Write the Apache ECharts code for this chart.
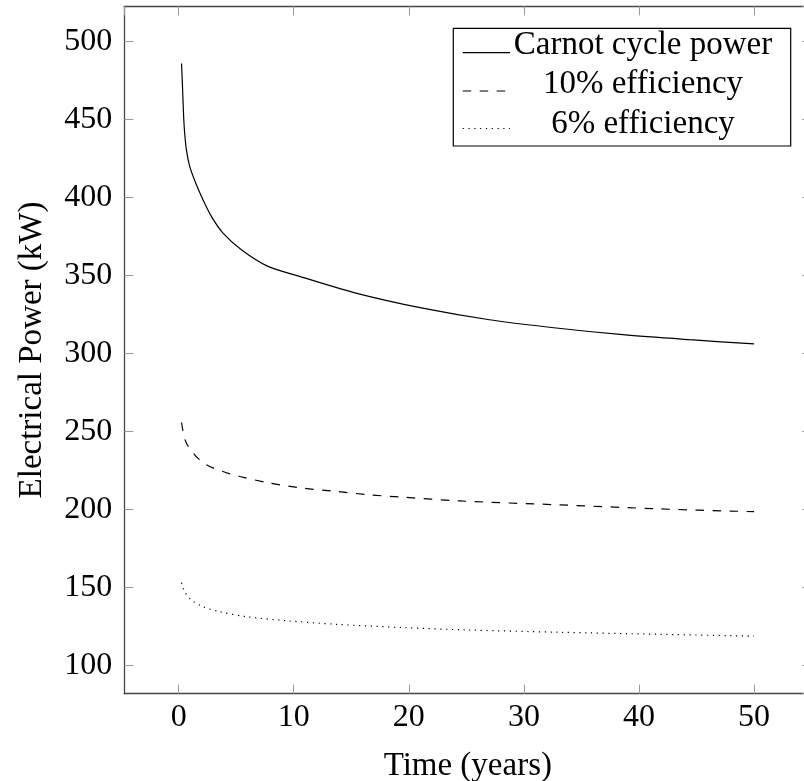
<!DOCTYPE html>
<html>
<head>
<meta charset="utf-8">
<title>Electrical Power over Time</title>
<script src="https://cdn.jsdelivr.net/npm/echarts@6/dist/echarts.min.js"></script>
<style>
  html, body { margin: 0; padding: 0; background: #fff; }
  #chart { width: 804px; height: 781px; }
</style>
</head>
<body>
<div id="chart"></div>
<script>
// Carnot cycle power (kW) versus time (years)
const carnotYears = [0.25, 0.32, 0.43, 0.52, 0.67, 0.96, 1.48, 2.11, 2.84, 3.85, 5.45, 7.76, 10.5, 15.4, 21.2, 27.0, 32.8, 38.6, 44.4, 50];
const carnotPower = [485.9, 473.5, 452.1, 441.4, 430.7, 420.0, 409.3, 398.6, 387.9, 377.2, 366.5, 355.8, 349.4, 338.7, 329.0, 321.6, 316.3, 312.0, 308.8, 306.1];

// Power at 10% conversion efficiency
const eff10Years = [0.25, 0.61, 1.39, 2.4, 3.85, 5.3, 7.9, 10.8, 13.7, 16.6, 19.5, 24.4, 33.1, 41.8, 50];
const eff10Power = [255.7, 243.5, 235.0, 228.6, 224.3, 221.1, 216.9, 213.6, 211.5, 209.3, 207.8, 205.4, 202.9, 200.3, 198.5];

// Power at 6% conversion efficiency
const eff6Years = [0.25, 0.52, 1.1, 2.11, 3.56, 5.88, 9.36, 13.7, 19.5, 25, 33.1, 41.8, 50];
const eff6Power = [153.0, 147.3, 141.9, 137.6, 134.4, 131.2, 128.6, 126.3, 124.2, 122.7, 121.2, 119.9, 118.7];

const seriesNames = ['Carnot cycle power', '10% efficiency', '6% efficiency'];
const xTitle = 'Time (years)';
const yTitle = 'Electrical Power (kW)';

// axis extents (data range padded by 10% on each side)
const xRange = [-4.725, 54.975];
const yRange = [81.8, 522.6];

const FONT = '"Liberation Serif", "Times New Roman", serif';
const FS = 32;      // tick labels
const FS_TEXT = 33; // titles and legend entries

function zip(xs, ys) { return xs.map((x, i) => [x, ys[i]]); }

const frameLine = { show: true, onZero: false, lineStyle: { color: '#444', width: 1.3 } };
const innerTick = { show: true, inside: true, length: 9, lineStyle: { color: '#999', width: 1 } };

const chart = echarts.init(document.getElementById('chart'), null, { renderer: 'canvas' });

const dashes = ['solid', [8.5, 8.5], [1.2, 4.6]];
const legendRows = [52.7, 91, 128.5];
const legendText = [45, 84, 124];

chart.setOption({
  animation: false,
  backgroundColor: '#fff',
  grid: {
    left: 124.3, top: 6.3, width: 687, height: 687.4,
    containLabel: false, outerBoundsMode: 'none'
  },
  xAxis: [
    {
      type: 'value', min: xRange[0], max: xRange[1], splitNumber: 6,
      position: 'bottom',
      axisLine: frameLine, axisTick: innerTick, splitLine: { show: false },
      axisLabel: {
        color: '#000', fontFamily: FONT, fontSize: FS, margin: 8,
        showMinLabel: false, showMaxLabel: false,
        formatter: v => (Math.abs(v % 10) < 1e-6 ? String(v) : '')
      },
      name: xTitle, nameLocation: 'middle', nameGap: 56,
      nameTextStyle: { color: '#000', fontFamily: FONT, fontSize: FS_TEXT }
    },
    {
      type: 'value', min: xRange[0], max: xRange[1], splitNumber: 6,
      position: 'top',
      axisLine: frameLine, axisTick: innerTick, splitLine: { show: false },
      axisLabel: { show: false }
    }
  ],
  yAxis: [
    {
      type: 'value', min: yRange[0], max: yRange[1], splitNumber: 9,
      position: 'left',
      axisLine: frameLine, axisTick: innerTick, splitLine: { show: false },
      axisLabel: {
        color: '#000', fontFamily: FONT, fontSize: FS, margin: 12,
        showMinLabel: false, showMaxLabel: false,
        formatter: v => (Math.abs(v % 50) < 1e-6 ? String(v) : '')
      },
      name: yTitle, nameLocation: 'middle', nameGap: 75, nameRotate: 90,
      nameTextStyle: { color: '#000', fontFamily: FONT, fontSize: FS_TEXT }
    },
    {
      type: 'value', min: yRange[0], max: yRange[1], splitNumber: 9,
      position: 'right',
      axisLine: frameLine, axisTick: innerTick, splitLine: { show: false },
      axisLabel: { show: false }
    }
  ],
  series: [
    { name: seriesNames[0], data: zip(carnotYears, carnotPower) },
    { name: seriesNames[1], data: zip(eff10Years, eff10Power) },
    { name: seriesNames[2], data: zip(eff6Years, eff6Power) }
  ].map((s, i) => ({
    type: 'line', name: s.name, data: s.data,
    xAxisIndex: 0, yAxisIndex: 0,
    showSymbol: false, symbol: 'none',
    smooth: 0.3,
    lineStyle: { color: '#000', width: 1.2, type: dashes[i] },
    emphasis: { disabled: true },
    z: 3
  })),
  graphic: [
    {
      type: 'group', z: 10,
      children: [
        {
          type: 'rect',
          shape: { x: 453.3, y: 28.3, width: 337.4, height: 117.7 },
          style: { fill: '#fff', stroke: '#000', lineWidth: 1.2 }
        }
      ].concat(seriesNames.map((n, i) => ({
        type: 'line',
        shape: { x1: 462.7, y1: legendRows[i], x2: 510, y2: legendRows[i] },
        style: { stroke: '#000', lineWidth: 1.2, lineDash: dashes[i] === 'solid' ? null : dashes[i] }
      }))).concat(seriesNames.map((n, i) => ({
        type: 'text',
        style: {
          text: n, x: 643, y: legendText[i],
          fill: '#000', font: FS_TEXT + 'px ' + FONT,
          textAlign: 'center', textVerticalAlign: 'middle'
        }
      })))
    }
  ]
});
</script>
</body>
</html>
